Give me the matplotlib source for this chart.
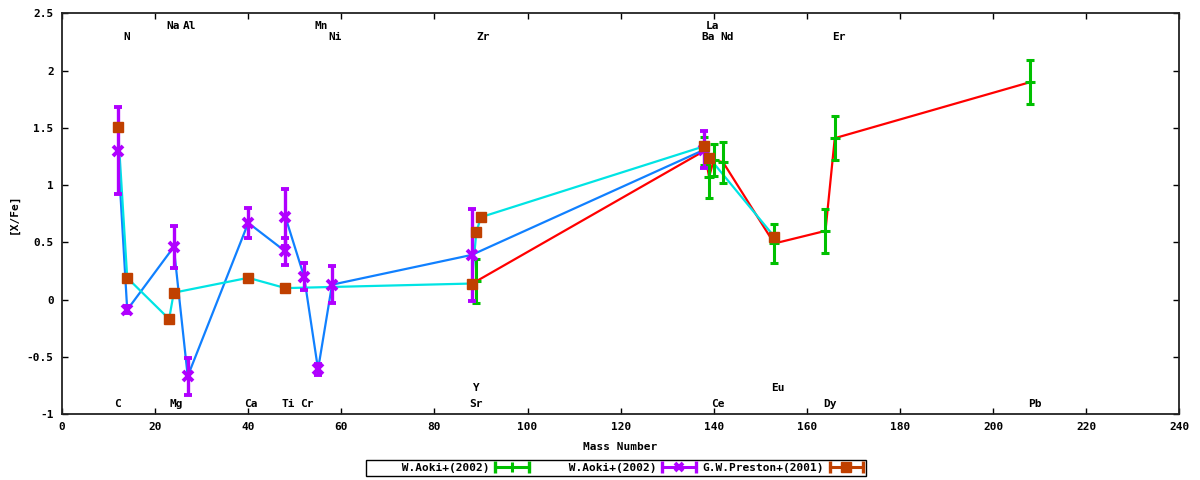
import matplotlib
matplotlib.use('Agg')
import matplotlib.pyplot as plt
from matplotlib.lines import Line2D
from matplotlib.legend_handler import HandlerLine2D, HandlerTuple
from matplotlib.ticker import FormatStrFormatter, MultipleLocator

# W.Aoki+(2002), green bars / red line
mass_g = [89, 138, 139, 140, 142, 153, 164, 166, 208]
val_g = [0.16, 1.30, 1.07, 1.22, 1.20, 0.49, 0.60, 1.41, 1.90]
err_g = [0.19, 0.12, 0.18, 0.14, 0.18, 0.17, 0.19, 0.19, 0.19]

# W.Aoki+(2002), purple bars / blue line
mass_m = [12, 14, 24, 27, 40, 48, 48, 52, 55, 58, 88, 138]
val_m = [1.30, -0.09, 0.46, -0.67, 0.67, 0.42, 0.72, 0.20, -0.61, 0.13, 0.39, 1.31]
err_m = [0.38, 0.03, 0.18, 0.16, 0.13, 0.12, 0.25, 0.12, 0.05, 0.16, 0.40, 0.16]

# G.W.Preston+(2001), orange squares / cyan line
mass_p = [12, 14, 23, 24, 40, 48, 88, 89, 90, 138, 139, 153]
val_p = [1.51, 0.19, -0.17, 0.06, 0.19, 0.10, 0.14, 0.59, 0.72, 1.34, 1.24, 0.55]

# element labels (name, x, y)
elements = [
    ('N', 13.8, 2.29), ('Na', 23.9, 2.39), ('Al', 27.5, 2.39),
    ('Mn', 55.7, 2.39), ('Ni', 58.7, 2.29), ('Zr', 90.5, 2.29),
    ('La', 139.8, 2.39), ('Ba', 138.9, 2.29), ('Nd', 142.8, 2.29),
    ('Er', 166.9, 2.29),
    ('C', 12.0, -0.91), ('Mg', 24.5, -0.91), ('Ca', 40.6, -0.91),
    ('Ti', 48.6, -0.91), ('Cr', 52.7, -0.91), ('Sr', 89.0, -0.91),
    ('Y', 89.0, -0.77), ('Ce', 140.9, -0.91), ('Eu', 153.8, -0.77),
    ('Dy', 164.9, -0.91), ('Pb', 209.0, -0.91),
]

labels = ['W.Aoki+(2002)', 'W.Aoki+(2002)', 'G.W.Preston+(2001)']

green = '#00c000'
purple = '#b000ff'
orange = '#c04000'
blue = '#1080ff'
cyan = '#00e4e4'
red = '#ff0000'

plt.rcParams['font.family'] = ['DejaVu Sans Mono']
plt.rcParams['font.weight'] = 'bold'
plt.rcParams['font.size'] = 8
plt.rcParams['axes.unicode_minus'] = False

fig = plt.figure(figsize=(12, 4.8), dpi=100)
ax = fig.add_axes([0.0517, 0.1375, 0.9310, 0.8345])

# connecting lines
ax.plot(mass_g, val_g, color=red, lw=1.6, zorder=2)
ax.plot(mass_m, val_m, color=blue, lw=1.6, zorder=2)
ax.plot(mass_p, val_p, color=cyan, lw=1.6, zorder=2)

# error bars / points
ax.errorbar(mass_g, val_g, yerr=err_g, fmt='_', color=green, ms=7, mew=2.2,
            elinewidth=2.2, capsize=3, capthick=2.2, zorder=3)
ax.errorbar(mass_m, val_m, yerr=err_m, fmt='x', color=purple, ms=6.5, mew=2.8,
            elinewidth=2.4, capsize=3, capthick=2.4, zorder=4)
ax.plot(mass_p, val_p, 's', color=orange, ms=6.5, zorder=5)

for name, x, y in elements:
    ax.text(x, y, name, ha='center', va='center', fontsize=8, fontweight='bold')

ax.set_xlim(0, 240)
ax.set_ylim(-1, 2.5)
ax.xaxis.set_major_locator(MultipleLocator(20))
ax.yaxis.set_major_locator(MultipleLocator(0.5))
ax.yaxis.set_major_formatter(FormatStrFormatter('%g'))
ax.tick_params(direction='in', length=4, width=1, top=True, right=True, pad=6,
               labelsize=8)
for s in ax.spines.values():
    s.set_linewidth(1.3)
    s.set_color('#222222')

fig.text(620 / 1200, 1 - 447 / 480, 'Mass Number', ha='center', va='center',
         fontsize=8, fontweight='bold')
fig.text(14 / 1200, 0.555, '[X/Fe]', ha='center', va='center', rotation=90,
         fontsize=8, fontweight='bold')

# legend samples: bar with end caps + point in the middle
handles = []
hmap = {tuple: HandlerTuple(ndivide=1, pad=0)}
for color, marker, ms, mew in [(green, '|', 7, 2.2), (purple, 'x', 6, 2.8),
                               (orange, 's', 6.5, 1)]:
    bar = Line2D([], [], color=color, lw=2.2, marker='|', ms=8, mew=2.4)
    mid = Line2D([], [], color=color, lw=0, marker=marker, ms=ms, mew=mew)
    hmap[bar] = HandlerLine2D(numpoints=2, marker_pad=0)
    hmap[mid] = HandlerLine2D(numpoints=1)
    handles.append((bar, mid))

padded = [' ' * (18 - len(t)) + t for t in labels]
leg = fig.legend(handles, padded, handler_map=hmap, loc='center',
                 bbox_to_anchor=(0.513, 0.025), ncol=3, markerfirst=False,
                 frameon=True, fancybox=False, edgecolor='black', framealpha=1,
                 handlelength=3.0, handletextpad=0.5, columnspacing=0.6,
                 borderpad=0.25, borderaxespad=0,
                 prop={'family': 'DejaVu Sans Mono', 'weight': 'bold', 'size': 8})
leg.get_frame().set_linewidth(1.0)

fig.savefig('out.png', dpi=100)
